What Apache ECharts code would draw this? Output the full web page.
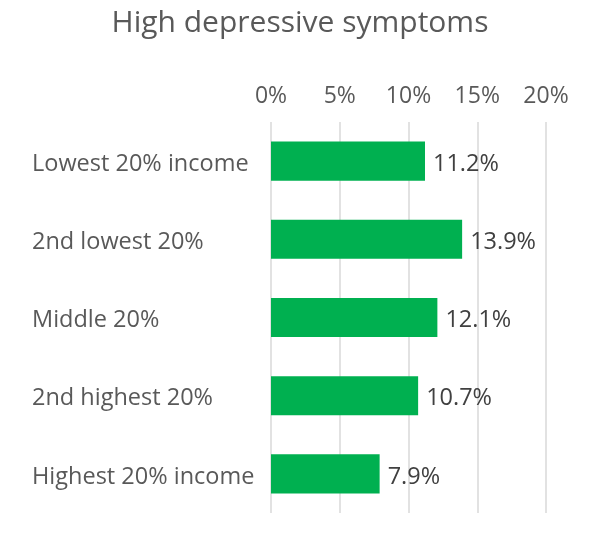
<!DOCTYPE html>
<html>
<head>
<meta charset="utf-8">
<script src="https://cdn.jsdelivr.net/npm/echarts@6/dist/echarts.min.js"></script>
<style>
  html, body { margin: 0; padding: 0; background: #fff; }
  #chart { width: 600px; height: 544px; }
</style>
</head>
<body>
<div id="chart"></div>
<script>
  // 数据
  const categories = ['Lowest 20% income', '2nd lowest 20%', 'Middle 20%', '2nd highest 20%', 'Highest 20% income']
  const values = [11.2, 13.9, 12.1, 10.7, 7.9]
  const tickLabels = ['0%', '5%', '10%', '15%', '20%']

  const font = "'Open Sans', 'Noto Sans', sans-serif"
  let myChart = echarts.init(document.getElementById('chart'))
  myChart.setOption({
    animation: false,
    title: {
      text: 'High depressive symptoms',
      left: 'center',
      top: 3,
      textStyle: { fontFamily: font, fontSize: 30, fontWeight: 'normal', color: '#595959' }
    },
    grid: { left: 271, right: 54, top: 122, bottom: 31 },
    xAxis: {
      type: 'value',
      position: 'top',
      min: 0,
      max: 20,
      interval: 5,
      axisLine: { show: false },
      axisTick: { show: false },
      axisLabel: {
        margin: 14,
        fontFamily: font,
        fontSize: 23,
        color: '#595959',
        formatter: (v) => tickLabels[v / 5]
      },
      splitLine: { lineStyle: { color: '#d9d9d9', width: 1.5 } }
    },
    yAxis: {
      type: 'category',
      inverse: true,
      data: categories,
      axisLine: { show: false },
      axisTick: { show: false },
      axisLabel: {
        margin: 239,
        align: 'left',
        formatter: (v) => '{c|' + v + '}',
        rich: {
          c: { fontFamily: font, fontSize: 23.5, color: '#595959', padding: [6, 0, 0, 0] }
        }
      }
    },
    series: [{
      type: 'bar',
      data: values,
      barWidth: '50%',
      itemStyle: { color: '#00b050' },
      label: {
        show: true,
        position: 'right',
        distance: 8,
        offset: [0, 3],
        fontFamily: font,
        fontSize: 23.5,
        color: '#404040',
        formatter: (p) => p.value.toFixed(1) + '%'
      }
    }]
  })
</script>
</body>
</html>
